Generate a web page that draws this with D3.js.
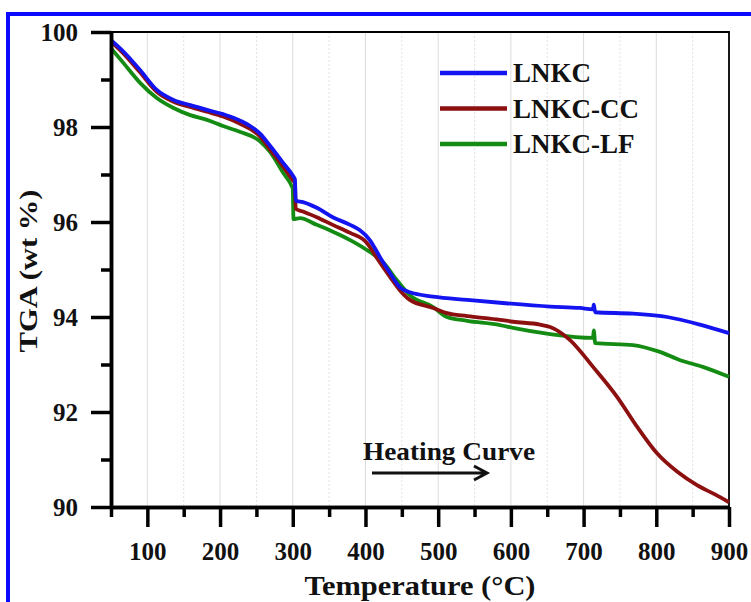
<!DOCTYPE html>
<meta charset="utf-8">
<style>
body { margin: 0; background: #fff; }
svg text { font-family: "Liberation Serif", "Times New Roman", serif; font-weight: bold; fill: #111; }
.axis path, .axis line { stroke: #000; }
</style>
<svg id="chart" width="751" height="602"></svg>
<script src="https://cdn.jsdelivr.net/npm/d3@7"></script>
<script>

// values (temperature in C, weight in wt %)
var seriesNames = ["LNKC", "LNKC-CC", "LNKC-LF"];
var seriesColors = ["#1414f0", "#8c1010", "#148c14"];

var lnkcT = [50, 67, 90, 113, 136, 159, 182, 204, 227, 255, 269, 287, 300, 303, 304, 314, 333, 355, 379, 392, 406, 420, 434, 447, 461, 493, 540, 585, 654, 695, 713, 714, 716, 768, 815, 860, 900];
var lnkcW = [99.83, 99.59, 99.2, 98.78, 98.57, 98.46, 98.36, 98.27, 98.14, 97.86, 97.6, 97.24, 96.98, 96.9, 96.45, 96.42, 96.3, 96.1, 95.94, 95.83, 95.62, 95.26, 94.92, 94.63, 94.52, 94.43, 94.36, 94.3, 94.22, 94.19, 94.16, 94.26, 94.1, 94.07, 94.0, 93.84, 93.66];

var ccT = [50, 67, 90, 113, 136, 159, 182, 204, 227, 255, 269, 287, 300, 303, 304, 314, 333, 355, 379, 402, 415, 434, 447, 461, 493, 512, 540, 585, 603, 640, 654, 681, 713, 746, 774, 801, 829, 856, 880, 900];
var ccW = [99.8, 99.55, 99.15, 98.74, 98.53, 98.42, 98.32, 98.22, 98.07, 97.8, 97.52, 97.16, 96.88, 96.82, 96.28, 96.22, 96.1, 95.94, 95.77, 95.56, 95.26, 94.84, 94.57, 94.36, 94.19, 94.08, 94.02, 93.94, 93.9, 93.84, 93.79, 93.52, 92.95, 92.32, 91.68, 91.13, 90.74, 90.46, 90.27, 90.1];

var lfT = [50, 67, 90, 113, 136, 159, 182, 204, 227, 255, 269, 287, 299, 300, 301, 310, 333, 356, 379, 402, 425, 443, 461, 493, 512, 540, 585, 603, 654, 713, 714, 716, 768, 804, 833, 864, 900];
var lfW = [99.66, 99.35, 98.93, 98.61, 98.4, 98.25, 98.15, 98.02, 97.9, 97.7, 97.47, 97.03, 96.74, 96.7, 96.06, 96.08, 95.94, 95.79, 95.62, 95.41, 95.14, 94.78, 94.46, 94.21, 94.0, 93.92, 93.83, 93.77, 93.64, 93.56, 93.72, 93.45, 93.41, 93.27, 93.09, 92.95, 92.74];

var xMajor = [100, 200, 300, 400, 500, 600, 700, 800, 900];
var xMinor = [50, 150, 250, 350, 450, 550, 650, 750, 850];
var yMajor = [90, 92, 94, 96, 98, 100];
var yMinor = [91, 93, 95, 97, 99];

var allT = [lnkcT, ccT, lfT];
var allW = [lnkcW, ccW, lfW];

var svg = d3.select("#chart");
var mLeft = 111, mRight = 729, mTop = 32, mBottom = 507;

// blue frame round the figure (cut off at right and bottom)
svg.append("rect")
  .attr("x", 8).attr("y", 14).attr("width", 800).attr("height", 700)
  .attr("fill", "none").attr("stroke", "#0a0aff").attr("stroke-width", 4);

var x = d3.scaleLinear().domain([50, 900]).range([mLeft, mRight]);
var y = d3.scaleLinear().domain([90, 100]).range([mBottom, mTop]);

// vertical grid
svg.append("g").selectAll("line").data(xMajor.slice(0, -1))
  .enter().append("line")
  .attr("x1", x).attr("x2", x).attr("y1", mTop).attr("y2", mBottom)
  .attr("stroke", "#dcdcdc").attr("stroke-width", 1);
svg.append("g").selectAll("line").data(xMinor.slice(1))
  .enter().append("line")
  .attr("x1", x).attr("x2", x).attr("y1", mTop).attr("y2", mBottom)
  .attr("stroke", "#e2e2e2").attr("stroke-width", 1).attr("stroke-dasharray", "2,2");

// thin top and right frame
svg.append("path")
  .attr("d", "M" + mLeft + "," + mTop + "H" + mRight + "V" + mBottom)
  .attr("fill", "none").attr("stroke", "#000").attr("stroke-width", 1.8);

// curves
var line = d3.line()
  .x(function(d) { return x(d[0]); })
  .y(function(d) { return y(d[1]); })
  .curve(d3.curveMonotoneX);

// draw LF first, then CC, then LNKC on top
[2, 1, 0].forEach(function(s) {
  var pts = allT[s].map(function(t, i) { return [t, allW[s][i]]; });
  svg.append("path")
    .datum(pts)
    .attr("d", line)
    .attr("fill", "none")
    .attr("stroke", seriesColors[s])
    .attr("stroke-width", 3.8)
    .attr("stroke-linejoin", "round");
});

// axes
svg.append("g").attr("class", "axis").attr("transform", "translate(0," + mBottom + ")")
  .call(d3.axisBottom(x).tickValues(xMinor).tickSize(10).tickSizeOuter(0).tickFormat(""));
svg.append("g").attr("class", "axis").attr("transform", "translate(0," + mBottom + ")")
  .call(d3.axisBottom(x).tickValues(xMajor).tickSize(20).tickSizeOuter(0).tickPadding(15));
svg.append("g").attr("class", "axis").attr("transform", "translate(" + mLeft + ",0)")
  .call(d3.axisLeft(y).tickValues(yMinor).tickSize(10).tickSizeOuter(0).tickFormat(""));
svg.append("g").attr("class", "axis").attr("transform", "translate(" + mLeft + ",0)")
  .call(d3.axisLeft(y).tickValues(yMajor).tickSize(20).tickSizeOuter(0).tickPadding(13));

svg.selectAll(".axis line").attr("stroke-width", 3.5);
svg.selectAll(".axis path").attr("stroke-width", 3.5);
svg.selectAll(".axis text")
  .style("font-family", "'Liberation Serif', 'Times New Roman', serif")
  .style("font-weight", "bold").style("font-size", "25px").attr("fill", "#111");

// axis titles
svg.append("text")
  .attr("x", 420).attr("y", 595).attr("text-anchor", "middle")
  .attr("textLength", 231).attr("lengthAdjust", "spacingAndGlyphs")
  .style("font-size", "28px")
  .text("Temperature (\u00B0C)");

svg.append("text")
  .attr("transform", "translate(37,271) rotate(-90)")
  .attr("text-anchor", "middle")
  .attr("textLength", 163).attr("lengthAdjust", "spacingAndGlyphs")
  .style("font-size", "25px")
  .text("TGA (wt %)");

// legend
var legend = svg.append("g").selectAll("g").data(seriesNames)
  .enter().append("g")
  .attr("transform", function(d, i) { return "translate(440," + (73 + i * 35.5) + ")"; });
legend.append("line")
  .attr("x1", 0).attr("x2", 67).attr("y1", 0).attr("y2", 0)
  .attr("stroke", function(d, i) { return seriesColors[i]; })
  .attr("stroke-width", 4.5);
legend.append("text")
  .attr("x", 73).attr("y", 9)
  .style("font-size", "27px")
  .text(function(d) { return d; });

// heating curve note
svg.append("text")
  .attr("x", 363).attr("y", 460)
  .attr("textLength", 172).attr("lengthAdjust", "spacingAndGlyphs")
  .style("font-size", "25px")
  .text("Heating Curve");
svg.append("path")
  .attr("d", "M372,473H486M474,466L487,473L474,480")
  .attr("fill", "none").attr("stroke", "#111").attr("stroke-width", 3);

</script>
